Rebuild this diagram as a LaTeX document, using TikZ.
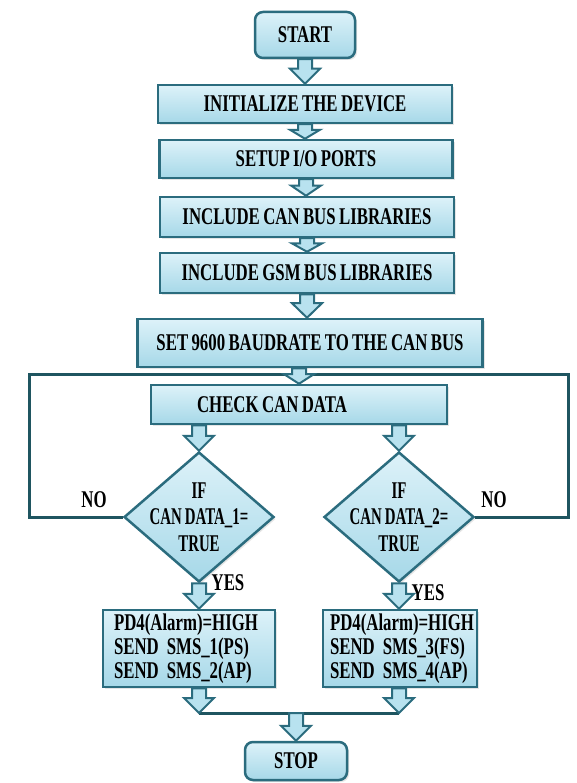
\documentclass[tikz,border=0pt]{standalone}
\usepackage{fontspec}
\setmainfont{Liberation Serif}[FakeStretch=0.70, WordSpace=0.8]
\newfontfamily\narrowfont{Liberation Serif}[FakeStretch=0.62, WordSpace=0.8]
\usetikzlibrary{calc,shapes.geometric,shadows}
\definecolor{edgec}{HTML}{2B6C7E}
\definecolor{loopc}{HTML}{1F5560}
\definecolor{btop}{HTML}{DDF2F9}
\definecolor{bbot}{HTML}{A6D8E8}
\definecolor{afill}{HTML}{B8E2EF}
\tikzset{
  txt/.style={font=\fontsize{24}{26}\selectfont\bfseries, text=black},
  stepbox/.style={txt, draw=edgec, line width=2.5pt, top color=btop, bottom color=bbot,
    inner sep=0pt, drop shadow={opacity=0.2, shadow xshift=2pt, shadow yshift=-2pt}},
  roundbox/.style={stepbox, rounded corners=8pt},
  decbox/.style={draw=edgec, line width=2.5pt, top color=btop, bottom color=bbot,
    diamond, inner sep=0pt, minimum width=150pt, minimum height=130pt,
    drop shadow={opacity=0.2, shadow xshift=2pt, shadow yshift=-2pt}},
  declabel/.style={font=\narrowfont\fontsize{24}{26.5}\selectfont\bfseries, text=black, align=center},
  lbl/.style={txt},
  barrowst/.style={draw=edgec, line width=2pt, fill=afill, line join=miter},
  loopline/.style={draw=loopc, line width=3pt, line join=miter},
  loopshadow/.style={draw=black, opacity=0.15, line width=3pt, line join=miter, shift={(2pt,2pt)}}
}
\newcommand\barrow[2]{%
  \path[barrowst] let \p1=#1, \p2=#2, \n1={min(15,0.62*(\y1-\y2))} in
    (\x1-7pt,\y1) -- (\x1-7pt,\y2+\n1) -- (\x1-15pt,\y2+\n1) -- (\x1,\y2)
    -- (\x1+15pt,\y2+\n1) -- (\x1+7pt,\y2+\n1) -- (\x1+7pt,\y1) -- cycle;}
\begin{document}
\begin{tikzpicture}[x=1pt,y=-1pt]
\useasboundingbox[fill=white] (0,0) rectangle (576,783);

% nodes
\node[roundbox, minimum width=100pt, minimum height=46pt] (start) at (305,35) {START};
\node[stepbox, minimum width=294pt, minimum height=38pt] (init) at (305,104) {INITIALIZE THE DEVICE};
\node[stepbox, minimum width=293pt, minimum height=38pt] (setup) at (306,159) {SETUP I/O PORTS};
\node[stepbox, minimum width=294pt, minimum height=40pt] (inccan) at (307,217) {INCLUDE CAN BUS LIBRARIES};
\node[stepbox, minimum width=294pt, minimum height=40pt] (incgsm) at (307,273) {INCLUDE GSM BUS LIBRARIES};
\node[stepbox, minimum width=345pt, minimum height=48pt] (set) at (310,343) {SET 9600 BAUDRATE TO THE CAN BUS};
\node[stepbox, minimum width=296pt, minimum height=39pt] (check) at (299,404.5) {\hspace*{-54pt}CHECK CAN DATA};
\node[decbox, label={[declabel]center:IF\\CAN DATA\_1=\\TRUE}] (dl) at (199,517) {};
\node[decbox, label={[declabel]center:IF\\CAN DATA\_2=\\TRUE}] (dr) at (399,517) {};
\node[stepbox, minimum width=172pt, minimum height=77pt, text width=150pt, inner xsep=11pt, align=left,
  font=\fontsize{24}{24}\selectfont\bfseries] (bl) at (189,648.5)
  {PD4(Alarm)=HIGH\\SEND SMS\_1(PS)\\SEND SMS\_2(AP)};
\node[stepbox, minimum width=154pt, minimum height=77pt, text width=140pt, inner xsep=7pt, align=left,
  font=\fontsize{24}{24}\selectfont\bfseries] (br) at (400,648.5)
  {PD4(Alarm)=HIGH\\SEND SMS\_3(FS)\\SEND SMS\_4(AP)};
\node[roundbox, minimum width=102pt, minimum height=38pt] (stop) at (296,761) {STOP};

% labels
\node[lbl] (no1) at (94,500) {NO};
\node[lbl] (no2) at (494,500) {NO};
\node[lbl] (yes1) at (228,583) {YES};
\node[lbl] (yes2) at (428,593) {YES};

% loop-back lines
\coordinate (lb1) at (29,517);
\coordinate (lt1) at (29,374);
\coordinate (lm1) at (292,374);
\coordinate (lb2) at (568,517);
\coordinate (lt2) at (568,374);
\coordinate (lm2) at (306,374);
\draw[loopshadow] (dl.west) -- (lb1) -- (lt1) -- (lm1);
\draw[loopshadow] (dr.east) -- (lb2) -- (lt2) -- (lm2);
\draw[loopline] (dl.west) -- (lb1) -- (lt1) -- (lm1);
\draw[loopline] (dr.east) -- (lb2) -- (lt2) -- (lm2);

% merge line
\coordinate (ml) at (199,713);
\coordinate (mr) at (399,713);
\draw[loopshadow] (ml) -- (mr);
\draw[loopline] (ml) -- (mr);

% block arrows
\barrow{(start.south)}{(init.north)}
\barrow{(init.south)}{(setup.north)}
\barrow{(setup.south)}{(inccan.north)}
\barrow{(inccan.south)}{(incgsm.north)}
\barrow{(incgsm.south)}{(set.north)}
\barrow{(set.south -| check.north)}{(check.north)}
\barrow{(check.south -| dl.north)}{(dl.north)}
\barrow{(check.south -| dr.north)}{(dr.north)}
\barrow{(dl.south)}{(bl.north)}
\barrow{(dr.south)}{(br.north)}
\barrow{(bl.south -| ml)}{(ml)}
\barrow{(br.south -| mr)}{(mr)}
\barrow{(stop.north |- ml)}{(stop.north)}
\end{tikzpicture}
\end{document}
